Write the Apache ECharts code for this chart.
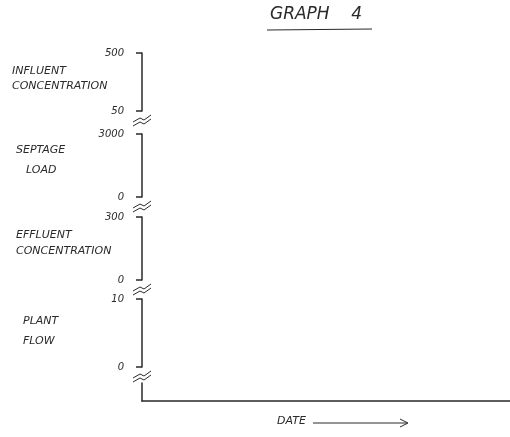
<!DOCTYPE html>
<html>
<head>
<meta charset="utf-8">
<script src="https://cdn.jsdelivr.net/npm/echarts@6/dist/echarts.min.js"></script>
<style>
  html, body { margin: 0; padding: 0; background: #fff; }
  #main { width: 510px; height: 437px; }
</style>
</head>
<body>
<div id="main"></div>
<script>
// panels, top to bottom
var panelNames = [['INFLUENT', 'CONCENTRATION'], ['SEPTAGE', 'LOAD'], ['EFFLUENT', 'CONCENTRATION'], ['PLANT', 'FLOW']];
var panelMin = [50, 0, 0, 0];
var panelMax = [500, 3000, 300, 10];
// no readings were plotted on the sketch
var dates = [];
var seriesValues = [[], [], [], []];

var chart = echarts.init(document.getElementById('main'));
var ink = '#2a2a2a';
var font = 'DejaVu Sans';

// grid layout (pixels)
var axisX = 142;
var panelTop = [53, 134, 217, 299];
var panelHeight = [58, 63, 63, 68];
var nameLeft = [[12, 12], [16, 26], [16, 16], [23, 23]];
var nameTop = [[66, 81], [145, 165], [230, 246], [316, 336]];

var grids = [], xAxes = [], yAxes = [], series = [], graphics = [];

for (var i = 0; i < 4; i++) {
    grids.push({ left: axisX, right: 0, top: panelTop[i], height: panelHeight[i] });
    xAxes.push({ gridIndex: i, type: 'category', data: dates, show: false });
    yAxes.push({
        gridIndex: i,
        type: 'value',
        min: panelMin[i],
        max: panelMax[i],
        interval: panelMax[i] - panelMin[i],
        axisLine: { show: true, lineStyle: { color: ink, width: 1.5 } },
        axisTick: { show: true, length: 6, lineStyle: { color: ink, width: 1.5 } },
        splitLine: { show: false },
        axisLabel: {
            color: ink, fontFamily: font, fontStyle: 'italic', fontSize: 10, margin: 18,
            formatter: function (v) { return String(v); }
        }
    });
    series.push({ type: 'line', xAxisIndex: i, yAxisIndex: i, data: seriesValues[i], symbol: 'none' });

    // axis names
    for (var k = 0; k < 2; k++) {
        graphics.push({
            type: 'text', left: nameLeft[i][k], top: nameTop[i][k],
            style: { text: panelNames[i][k], fill: ink, font: 'italic 11px ' + font }
        });
    }
    // break marks below each panel
    var by = panelTop[i] + panelHeight[i] + 8;
    graphics.push({
        type: 'group', x: axisX, y: by,
        children: [
            { type: 'polyline', shape: { points: [[-9, 3], [-2, -1], [2, 1], [9, -4]] }, style: { stroke: ink, lineWidth: 1, fill: null } },
            { type: 'polyline', shape: { points: [[-9, 7], [-2, 3], [2, 5], [9, 0]] }, style: { stroke: ink, lineWidth: 1, fill: null } }
        ]
    });
}

// bottom grid carries the date axis
grids.push({ left: axisX, right: 0, top: 383, height: 18 });
xAxes.push({
    gridIndex: 4, type: 'category', data: dates,
    axisLine: { show: true, onZero: false, lineStyle: { color: ink, width: 1.5 } },
    axisTick: { show: false }, axisLabel: { show: false }
});
yAxes.push({
    gridIndex: 4, type: 'value', min: 0, max: 1,
    axisLine: { show: true, lineStyle: { color: ink, width: 1.5 } },
    axisTick: { show: false }, axisLabel: { show: false }, splitLine: { show: false }
});

// title, underline and date arrow
graphics.push(
    { type: 'text', left: 270, top: 6, style: { text: 'GRAPH    4', fill: ink, font: 'italic 17px ' + font } },
    { type: 'line', shape: { x1: 267, y1: 30, x2: 372, y2: 29 }, style: { stroke: ink, lineWidth: 1.2 } },
    { type: 'text', left: 277, top: 416, style: { text: 'DATE', fill: ink, font: 'italic 11px ' + font } },
    { type: 'line', shape: { x1: 313, y1: 423, x2: 407, y2: 423 }, style: { stroke: ink, lineWidth: 1 } },
    { type: 'polyline', shape: { points: [[400, 419], [408, 423], [400, 427]] }, style: { stroke: ink, lineWidth: 1, fill: null } }
);

chart.setOption({
    animation: false,
    grid: grids,
    xAxis: xAxes,
    yAxis: yAxes,
    series: series,
    graphic: graphics
});
</script>
</body>
</html>
